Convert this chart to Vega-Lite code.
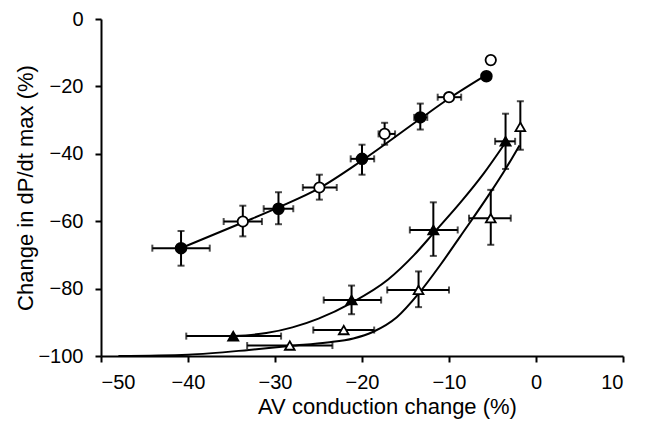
{
  "$schema": "https://vega.github.io/schema/vega-lite/v6.json",
  "autosize": "none",
  "width": 522,
  "height": 337,
  "padding": {"left": 101, "top": 19, "right": 23, "bottom": 65},
  "background": "white",
  "config": {
    "view": {"stroke": null},
    "font": "Liberation Sans",
    "axis": {
      "grid": false,
      "domainColor": "black",
      "domainWidth": 2,
      "tickColor": "black",
      "tickWidth": 2,
      "tickSize": 6,
      "labelFont": "Liberation Sans",
      "labelFontSize": 20,
      "labelColor": "black",
      "titleFont": "Liberation Sans",
      "titleFontSize": 22,
      "titleFontWeight": "normal",
      "titleColor": "black"
    }
  },
  "datasets": {
    "pts": [
      {"series": "fc", "x": -40.8, "y": -68.0, "xlo": -44.1, "xhi": -37.5, "ylo": -73.2, "yhi": -62.9},
      {"series": "fc", "x": -29.6, "y": -56.3, "xlo": -31.3, "xhi": -27.9, "ylo": -60.9, "yhi": -51.4},
      {"series": "fc", "x": -20.0, "y": -41.5, "xlo": -21.3, "xhi": -18.6, "ylo": -46.2, "yhi": -37.3},
      {"series": "fc", "x": -13.3, "y": -29.2, "xlo": -14.0, "xhi": -12.5, "ylo": -32.8, "yhi": -25.1},
      {"series": "fc", "x": -5.7, "y": -17.0, "xlo": null, "xhi": null, "ylo": null, "yhi": null},
      {"series": "oc", "x": -33.7, "y": -60.1, "xlo": -35.9, "xhi": -31.5, "ylo": -64.5, "yhi": -55.4},
      {"series": "oc", "x": -24.9, "y": -50.0, "xlo": -26.8, "xhi": -22.9, "ylo": -53.6, "yhi": -46.2},
      {"series": "oc", "x": -17.4, "y": -34.1, "xlo": -18.1, "xhi": -16.2, "ylo": -37.3, "yhi": -30.8},
      {"series": "oc", "x": -10.0, "y": -23.2, "xlo": -11.3, "xhi": -8.6, "ylo": null, "yhi": null},
      {"series": "oc", "x": -5.2, "y": -12.2, "xlo": null, "xhi": null, "ylo": null, "yhi": null},
      {"series": "ft", "x": -34.8, "y": -94.1, "xlo": -40.2, "xhi": -29.3, "ylo": null, "yhi": null},
      {"series": "ft", "x": -21.2, "y": -83.4, "xlo": -24.4, "xhi": -17.8, "ylo": -87.6, "yhi": -79.1},
      {"series": "ft", "x": -11.8, "y": -62.6, "xlo": -14.5, "xhi": -9.0, "ylo": -70.3, "yhi": -54.4},
      {"series": "ft", "x": -3.5, "y": -36.3, "xlo": -4.7, "xhi": -2.4, "ylo": -44.5, "yhi": -28.1},
      {"series": "ot", "x": -28.3, "y": -96.9, "xlo": -33.2, "xhi": -23.4, "ylo": null, "yhi": null},
      {"series": "ot", "x": -22.1, "y": -92.3, "xlo": -25.6, "xhi": -18.6, "ylo": null, "yhi": null},
      {"series": "ot", "x": -13.5, "y": -80.4, "xlo": -17.1, "xhi": -10.0, "ylo": -85.5, "yhi": -74.9},
      {"series": "ot", "x": -5.2, "y": -59.1, "xlo": -7.7, "xhi": -2.9, "ylo": -67.0, "yhi": -50.7},
      {"series": "ot", "x": -1.8, "y": -32.0, "xlo": null, "xhi": null, "ylo": -38.8, "yhi": -24.4}
    ],
    "curves": [
      {"curve": "circ", "x": -40.8, "y": -68.0},
      {"curve": "circ", "x": -33.7, "y": -60.4},
      {"curve": "circ", "x": -29.6, "y": -55.9},
      {"curve": "circ", "x": -24.9, "y": -50.2},
      {"curve": "circ", "x": -20.0, "y": -42.0},
      {"curve": "circ", "x": -13.3, "y": -29.6},
      {"curve": "circ", "x": -10.0, "y": -23.6},
      {"curve": "circ", "x": -5.7, "y": -16.6},
      {"curve": "ftri", "x": -34.8, "y": -94.1},
      {"curve": "ftri", "x": -31.0, "y": -93.2},
      {"curve": "ftri", "x": -28.0, "y": -91.5},
      {"curve": "ftri", "x": -25.0, "y": -88.9},
      {"curve": "ftri", "x": -21.2, "y": -84.2},
      {"curve": "ftri", "x": -17.0, "y": -77.3},
      {"curve": "ftri", "x": -14.0, "y": -70.0},
      {"curve": "ftri", "x": -11.8, "y": -63.6},
      {"curve": "ftri", "x": -8.7, "y": -54.5},
      {"curve": "ftri", "x": -6.0, "y": -45.8},
      {"curve": "ftri", "x": -3.6, "y": -37.0},
      {"curve": "otri", "x": -48.0, "y": -100.0},
      {"curve": "otri", "x": -40.0, "y": -99.6},
      {"curve": "otri", "x": -33.0, "y": -98.2},
      {"curve": "otri", "x": -28.3, "y": -97.0},
      {"curve": "otri", "x": -24.0, "y": -96.0},
      {"curve": "otri", "x": -21.0, "y": -94.8},
      {"curve": "otri", "x": -18.7, "y": -92.8},
      {"curve": "otri", "x": -16.0, "y": -88.5},
      {"curve": "otri", "x": -13.5, "y": -81.5},
      {"curve": "otri", "x": -11.0, "y": -73.0},
      {"curve": "otri", "x": -8.7, "y": -64.5},
      {"curve": "otri", "x": -5.5, "y": -52.5},
      {"curve": "otri", "x": -3.5, "y": -44.5},
      {"curve": "otri", "x": -1.9, "y": -37.5}
    ]
  },
  "encoding": {
    "x": {
      "type": "quantitative",
      "scale": {"domain": [-50, 10], "nice": false, "zero": false},
      "axis": {"values": [-50, -40, -30, -20, -10, 0, 10], "title": "AV conduction change (%)", "labelPadding": 10, "titleX": 286, "titleY": 50, "titleBaseline": "middle", "titleAlign": "center"}
    },
    "y": {
      "type": "quantitative",
      "scale": {"domain": [-100, 0], "nice": false, "zero": false},
      "axis": {"values": [-100, -80, -60, -40, -20, 0], "title": "Change in dP/dt max (%)", "labelPadding": 12, "titleX": -76, "titleBaseline": "middle", "titleAlign": "center"}
    }
  },
  "layer": [
    {
      "data": {"name": "curves"},
      "mark": {"type": "line", "interpolate": "monotone", "color": "black", "strokeWidth": 2},
      "encoding": {"x": {"field": "x"}, "y": {"field": "y"}, "detail": {"field": "curve"}}
    },
    {
      "data": {"name": "pts"},
      "transform": [{"filter": "datum.xlo != null"}],
      "mark": {"type": "rule", "color": "black", "strokeWidth": 2},
      "encoding": {"x": {"field": "xlo"}, "x2": {"field": "xhi"}, "y": {"field": "y"}}
    },
    {
      "data": {"name": "pts"},
      "transform": [{"filter": "datum.ylo != null"}],
      "mark": {"type": "rule", "color": "black", "strokeWidth": 2},
      "encoding": {"x": {"field": "x"}, "y": {"field": "ylo"}, "y2": {"field": "yhi"}}
    },
    {
      "data": {"name": "pts"},
      "transform": [{"filter": "datum.xlo != null"}],
      "mark": {"type": "tick", "orient": "vertical", "color": "black", "size": 7, "thickness": 2},
      "encoding": {"x": {"field": "xlo"}, "y": {"field": "y"}}
    },
    {
      "data": {"name": "pts"},
      "transform": [{"filter": "datum.xhi != null"}],
      "mark": {"type": "tick", "orient": "vertical", "color": "black", "size": 7, "thickness": 2},
      "encoding": {"x": {"field": "xhi"}, "y": {"field": "y"}}
    },
    {
      "data": {"name": "pts"},
      "transform": [{"filter": "datum.ylo != null"}],
      "mark": {"type": "tick", "orient": "horizontal", "color": "black", "size": 7, "thickness": 2},
      "encoding": {"x": {"field": "x"}, "y": {"field": "ylo"}}
    },
    {
      "data": {"name": "pts"},
      "transform": [{"filter": "datum.yhi != null"}],
      "mark": {"type": "tick", "orient": "horizontal", "color": "black", "size": 7, "thickness": 2},
      "encoding": {"x": {"field": "x"}, "y": {"field": "yhi"}}
    },
    {
      "data": {"name": "pts"},
      "mark": {"type": "point", "filled": true, "stroke": "black", "strokeWidth": 1.8, "opacity": 1},
      "encoding": {
        "x": {"field": "x"},
        "y": {"field": "y"},
        "shape": {"field": "series", "type": "nominal", "scale": {"domain": ["fc", "oc", "ft", "ot"], "range": ["circle", "circle", "triangle-up", "triangle-up"]}, "legend": null},
        "fill": {"field": "series", "type": "nominal", "scale": {"domain": ["fc", "oc", "ft", "ot"], "range": ["black", "white", "black", "white"]}, "legend": null},
        "size": {"field": "series", "type": "nominal", "scale": {"domain": ["fc", "oc", "ft", "ot"], "range": [115, 95, 150, 115]}, "legend": null}
      }
    }
  ]
}
